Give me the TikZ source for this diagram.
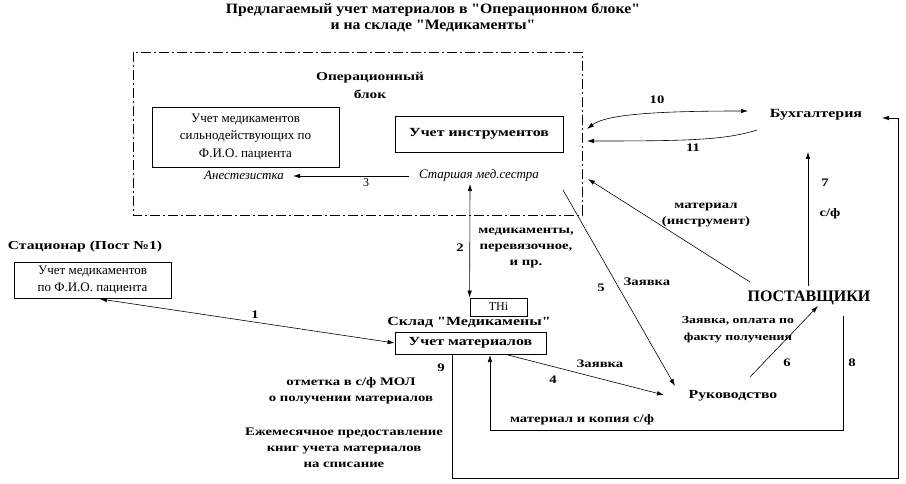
\documentclass[tikz,border=0pt]{standalone}
\usepackage{fontspec}
\setmainfont{Liberation Serif}
\newfontfamily\wbf{Liberation Serif}[FakeStretch=1.28]
\newfontfamily\tbf{Liberation Serif}[FakeStretch=1.1]
\usetikzlibrary{arrows.meta}
\begin{document}
\begin{tikzpicture}[x=1pt,y=-1pt,
  lbl/.style={font=\wbf\bfseries\fontsize{11.5}{16}\selectfont, inner sep=0pt, align=center},
  txt/.style={font=\fontsize{13}{17.5}\selectfont, inner sep=0pt, align=center},
  itx/.style={font=\fontsize{13}{17}\selectfont\itshape, inner sep=0pt},
  box/.style={draw, line width=0.8pt, inner sep=0pt, align=center, font=\fontsize{13}{17.5}\selectfont},
  con/.style={line width=0.6pt},
  arr/.style={con, -{Latex[length=7pt,width=4.5pt]}},
  darr/.style={con, {Latex[length=7pt,width=4.5pt]}-{Latex[length=7pt,width=4.5pt]}},
  dashdot/.style={line width=0.7pt, dash pattern=on 10pt off 3pt on 2pt off 3pt}
]
\useasboundingbox (0,0) rectangle (906,484);

% title
\node[inner sep=0pt, align=center, font=\tbf\bfseries\fontsize{14.3}{16}\selectfont] (title) at (433,18) {Предлагаемый учет материалов в "Операционном блоке"\\и на складе "Медикаменты"};

% operating block frame
\draw[dashdot] (133,52) rectangle (582,215);
\node[lbl, font=\wbf\bfseries\fontsize{12}{18}\selectfont] (opblock) at (370,85) {Операционный\\блок};
\node[box, minimum width=187pt, minimum height=60pt] (med) at (245.5,137) {Учет медикаментов\\сильнодействующих по\\Ф.И.О. пациента};
\node[box, minimum width=168pt, minimum height=36pt, font=\wbf\bfseries\fontsize{12.4}{17}\selectfont] (instr) at (479,134) {Учет инструментов};
\node[itx] (anest) at (244,175) {Анестезистка};
\node[itx] (nurse) at (479,175) {Старшая мед.сестра};
\draw[arr] ([xshift=-10pt,yshift=-1pt]nurse.west) -- ([xshift=9pt,yshift=-1pt]anest.east);
\node[txt, font=\fontsize{12}{14}\selectfont] (n3) at (366,183) {3};

% stationary
\node[lbl, font=\wbf\bfseries\fontsize{12.2}{16}\selectfont] (stat) at (85,247) {Стационар (Пост №1)};
\node[box, minimum width=157pt, minimum height=36pt] (stbox) at (92.5,280) {Учет медикаментов\\по Ф.И.О. пациента};

% warehouse
\node[box, minimum width=57pt, minimum height=18pt, font=\fontsize{12}{14}\selectfont] (thi) at (498.5,307) {THi};
\node[lbl, font=\wbf\bfseries\fontsize{12.5}{16}\selectfont] (sklad) at (469,322) {Склад "Медикамены"};
\node[box, minimum width=151pt, minimum height=22pt, font=\wbf\bfseries\fontsize{12.4}{17}\selectfont] (mat) at (470.5,343) {Учет материалов};

% connector 1
\coordinate (c1) at (100,299);
\draw[darr] (c1) -- (mat.west);
\node[lbl] (n1) at (255,315) {1};

% connector 2
\coordinate (c2top) at (470,184);
\draw[darr] (thi.north west) -- (c2top);
\node[lbl] (n2) at (460,248) {2};
\node[lbl] (medsup) at (526,248) {медикаменты,\\перевязочное,\\и пр.};

% right side labels
\node[lbl, font=\wbf\bfseries\fontsize{12.5}{16}\selectfont] (buh) at (816,115) {Бухгалтерия};
\node[inner sep=0pt, font=\normalfont\bfseries\fontsize{16}{18}\selectfont] (post) at (809,298) {ПОСТАВЩИКИ};
\node[lbl, font=\wbf\bfseries\fontsize{12.3}{16}\selectfont] (ruk) at (733,396) {Руководство};

% 10, 11
\coordinate (c10a) at (587,129);
\coordinate (c10b) at (748,111);
\draw[darr] (c10a) .. controls (605,115) and (650,111) .. (c10b);
\node[lbl] (n10) at (657,100) {10};
\coordinate (c11a) at (757,130);
\coordinate (c11b) at (587,141);
\draw[arr] (c11a) .. controls (725,140) and (690,141) .. (c11b);
\node[lbl] (n11) at (693,148) {11};

% material (instrument)
\coordinate (cmi1) at (750,282);
\coordinate (cmi2) at (588,179);
\draw[arr] (cmi1) -- (cmi2);
\node[lbl] (mi) at (706,215) {материал\\(инструмент)};

% 5
\coordinate (c5a) at (563,190);
\coordinate (c5b) at (675,386);
\draw[arr] (c5a) -- (c5b);
\node[lbl] (n5) at (601,288) {5};
\node[lbl] (z5) at (647,282) {Заявка};

% 4
\coordinate (c4a) at (508,355);
\coordinate (c4b) at (664,395);
\draw[arr] (c4a) -- (c4b);
\node[lbl] (n4) at (553,380) {4};
\node[lbl] (z4) at (600,364) {Заявка};

% 6
\coordinate (c6a) at (750,377);
\coordinate (c6b) at (818,306);
\draw[arr] (c6a) -- (c6b);
\node[lbl] (n6) at (787,363) {6};
\node[lbl, font=\wbf\bfseries\fontsize{10.8}{17}\selectfont] (z6) at (738,330) {Заявка, оплата по\\факту получения};

% 7
\coordinate (c7a) at (808,286);
\coordinate (c7b) at (808,152);
\draw[arr] (c7a) -- (c7b);
\node[lbl] (n7) at (825,183) {7};
\node[lbl] (sf7) at (830,214) {с/ф};

% 8
\coordinate (c8a) at (843,316);
\coordinate (c8b) at (490,355);
\draw[arr] (c8a) -- (843,430) -- (490,430) -- (c8b);
\node[lbl] (n8) at (852,363) {8};
\node[lbl] (mk) at (582,420) {материал и копия с/ф};

% 9
\coordinate (c9a) at (452,354);
\coordinate (c9b) at (882,118);
\draw[arr] (c9a) -- (452,478) -- (898,478) -- (898,118) -- (c9b);
\node[lbl] (n9) at (441,368) {9};
\node[lbl] (otm) at (351,391) {отметка в с/ф МОЛ\\о получении материалов};
\node[lbl] (ezh) at (344,448) {Ежемесячное предоставление\\книг учета материалов\\на списание};

\end{tikzpicture}
\end{document}
